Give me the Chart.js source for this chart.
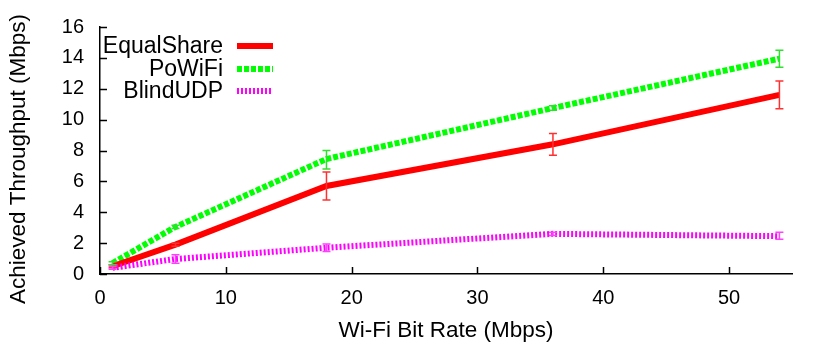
<!DOCTYPE html>
<html lang="en">
<head>
  <meta charset="UTF-8" />
  <title>Achieved Throughput vs Wi-Fi Bit Rate</title>
  <script src="https://cdn.jsdelivr.net/npm/chart.js"></script>
  <style>
    html, body { margin: 0; padding: 0; background: #fff; }
    #wrap { width: 830px; height: 348px; position: relative; }
  </style>
</head>
<body>
  <div id="wrap"><canvas id="chart"></canvas></div>

  <script>
    // data
    const bitRates = [1, 6, 18, 36, 54];

    const equalShare     = [0.5, 1.9, 5.7, 8.4, 11.6];
    const equalShareLow  = [0.4, 1.8, 4.8, 7.7, 10.7];
    const equalShareHigh = [0.6, 2.0, 6.6, 9.1, 12.5];

    const poWiFi     = [0.7, 3.05, 7.45, 10.75, 13.95];
    const poWiFiLow  = [0.6, 2.95, 6.8, 10.6, 13.4];
    const poWiFiHigh = [0.8, 3.15, 8.0, 10.9, 14.5];

    const blindUDP     = [0.4, 0.97, 1.7, 2.6, 2.45];
    const blindUDPLow  = [0.3, 0.7, 1.45, 2.5, 2.25];
    const blindUDPHigh = [0.5, 1.25, 1.95, 2.7, 2.7];

    const xTicks = [0, 10, 20, 30, 40, 50];
    const yTicks = [0, 2, 4, 6, 8, 10, 12, 14, 16];

    const xTitle = "Wi-Fi Bit Rate (Mbps)";
    const yTitle = "Achieved Throughput (Mbps)";

    const FONT = "'Liberation Sans', Arial, sans-serif";

    function toPoints(ys) {
      return bitRates.map((x, i) => ({ x: x, y: ys[i] }));
    }

    // inward ticks on the left and bottom axes
    const innerTicks = {
      id: "innerTicks",
      afterDraw(chart) {
        const { ctx, chartArea, scales } = chart;
        ctx.save();
        ctx.strokeStyle = "#000";
        ctx.lineWidth = 1.5;
        ctx.beginPath();
        xTicks.forEach(v => {
          const px = Math.round(scales.x.getPixelForValue(v)) + 0.5;
          ctx.moveTo(px, chartArea.bottom);
          ctx.lineTo(px, chartArea.bottom - 7);
        });
        yTicks.forEach(v => {
          const py = Math.round(scales.y.getPixelForValue(v)) + 0.5;
          ctx.moveTo(chartArea.left, py);
          ctx.lineTo(chartArea.left + 7, py);
        });
        ctx.stroke();
        ctx.restore();
      }
    };

    // error bars with small caps
    const errorBars = {
      id: "errorBars",
      afterDatasetsDraw(chart) {
        const { ctx, scales } = chart;
        ctx.save();
        chart.data.datasets.forEach(ds => {
          ctx.strokeStyle = ds.errColor;
          ctx.lineWidth = 1.5;
          ds.data.forEach((p, i) => {
            const px = scales.x.getPixelForValue(p.x);
            const lo = scales.y.getPixelForValue(ds.errLow[i]);
            const hi = scales.y.getPixelForValue(ds.errHigh[i]);
            ctx.beginPath();
            ctx.moveTo(px, lo); ctx.lineTo(px, hi);
            ctx.moveTo(px - 4, lo); ctx.lineTo(px + 4, lo);
            ctx.moveTo(px - 4, hi); ctx.lineTo(px + 4, hi);
            ctx.stroke();
          });
        });
        ctx.restore();
      }
    };

    // gnuplot-style key: label right-aligned, line sample to its right;
    // plus the y title, which sits a bit below the middle of the axis
    const keyBox = {
      id: "keyBox",
      afterDraw(chart) {
        const { ctx } = chart;
        const rows = [46, 69, 91];
        ctx.save();
        ctx.font = "23px " + FONT;
        ctx.textAlign = "right";
        ctx.textBaseline = "middle";
        chart.data.datasets.forEach((ds, i) => {
          const y = rows[i];
          ctx.fillStyle = "#000";
          ctx.fillText(ds.label, 223, y + 1);
          ctx.strokeStyle = ds.borderColor;
          ctx.lineWidth = ds.borderWidth;
          ctx.lineCap = "butt";
          ctx.setLineDash(ds.borderDash || []);
          ctx.beginPath();
          ctx.moveTo(237, y);
          ctx.lineTo(273, y);
          ctx.stroke();
        });
        ctx.setLineDash([]);
        ctx.translate(19, 159);
        ctx.rotate(-Math.PI / 2);
        ctx.textAlign = "center";
        ctx.font = "22.5px " + FONT;
        ctx.fillText(yTitle, 0, 0);
        ctx.restore();
      }
    };

    const ctx = document.getElementById("chart").getContext("2d");
    new Chart(ctx, {
      type: "line",
      data: {
        datasets: [
          {
            label: "EqualShare",
            data: toPoints(equalShare),
            errLow: equalShareLow, errHigh: equalShareHigh,
            borderColor: "#ff0000", errColor: "#ff3030",
            borderWidth: 6, order: 2
          },
          {
            label: "PoWiFi",
            data: toPoints(poWiFi),
            errLow: poWiFiLow, errHigh: poWiFiHigh,
            borderColor: "#00ff00", errColor: "#30e030",
            borderWidth: 6, borderDash: [5, 2], order: 3
          },
          {
            label: "BlindUDP",
            data: toPoints(blindUDP),
            errLow: blindUDPLow, errHigh: blindUDPHigh,
            borderColor: "#ff00ff", errColor: "#ff40ff",
            borderWidth: 6, borderDash: [2, 2], order: 1
          }
        ]
      },
      options: {
        responsive: true,
        maintainAspectRatio: false,
        animation: false,
        layout: { padding: { top: 27, right: 38, left: 0, bottom: 0 } },
        elements: {
          point: { radius: 0 },
          line: { tension: 0, borderCapStyle: "butt", borderJoinStyle: "miter" }
        },
        plugins: { legend: { display: false }, tooltip: { enabled: false } },
        scales: {
          x: {
            type: "linear",
            min: 0, max: 55,
            afterFit: s => { s.height = 74; },
            afterBuildTicks: s => { s.ticks = xTicks.map(v => ({ value: v })); },
            grid: { display: false },
            border: { display: true, color: "#000", width: 1.5 },
            ticks: { color: "#000", padding: 4, font: { family: FONT, size: 20 } },
            title: {
              display: true, text: xTitle, color: "#000",
              font: { family: FONT, size: 22.5 }, padding: { top: 0, bottom: 4 }
            }
          },
          y: {
            min: 0, max: 16,
            afterFit: s => { s.width = 100; },
            afterBuildTicks: s => { s.ticks = yTicks.map(v => ({ value: v })); },
            grid: { display: false },
            border: { display: true, color: "#000", width: 1.5 },
            ticks: { color: "#000", padding: 8, font: { family: FONT, size: 20 } }
          }
        }
      },
      plugins: [innerTicks, errorBars, keyBox]
    });
  </script>
</body>
</html>
